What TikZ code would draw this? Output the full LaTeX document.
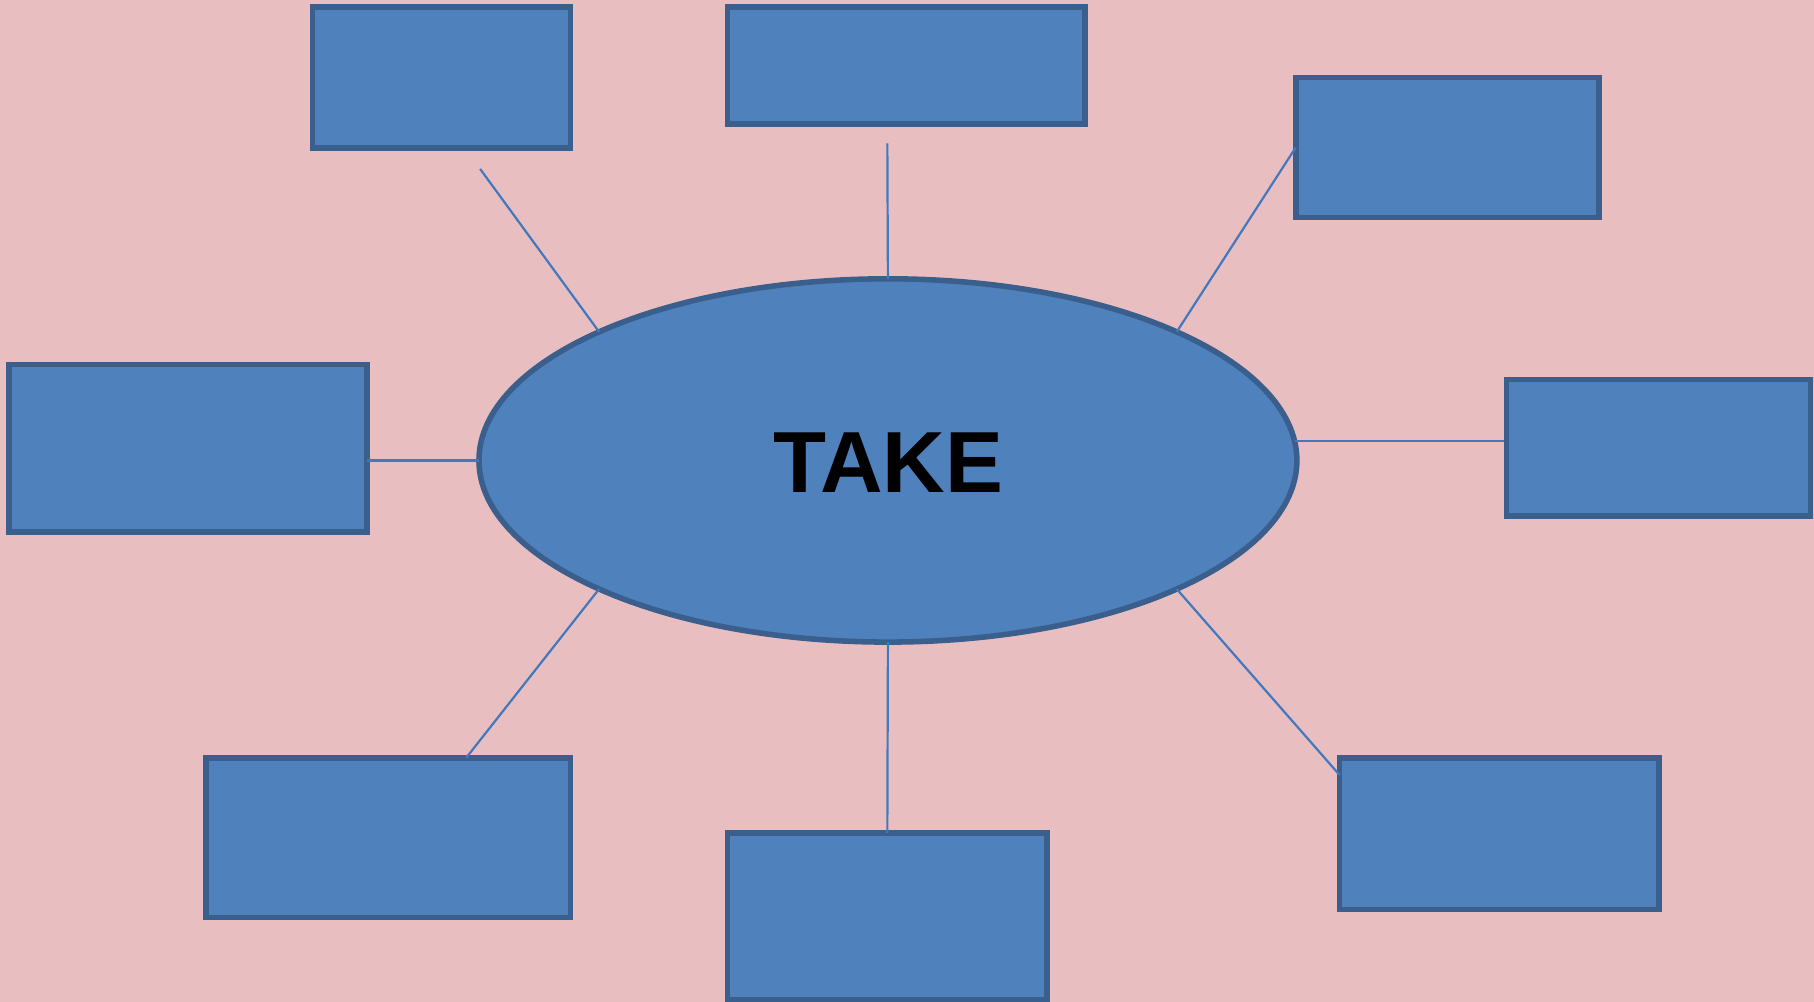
\documentclass[tikz,border=0pt]{standalone}
\usepackage{fontspec}
\setmainfont{Liberation Sans}
\usetikzlibrary{shapes.geometric}
\definecolor{bgpink}{HTML}{E9BEC1}
\definecolor{boxfill}{HTML}{4F81BD}
\definecolor{boxline}{HTML}{3A5F8C}
\definecolor{linkcol}{HTML}{4279BE}
\tikzset{
  box/.style={draw=boxline, fill=boxfill, line width=2.4pt, inner sep=0pt, outer sep=0pt, rectangle},
  hub/.style={draw=boxline, fill=boxfill, line width=2.4pt, inner sep=0pt, outer sep=0pt, ellipse,
              minimum width=353.5pt, minimum height=157pt},
  link/.style={draw=linkcol, line width=0.95pt},
  hubtext/.style={font=\fontsize{37.5}{40}\selectfont\bfseries, text=black, inner sep=0pt}
}
\begin{document}
\begin{tikzpicture}[x=0.5pt, y=-0.5pt]
\fill[bgpink] (0,0) rectangle (1568,866);
\useasboundingbox (0,0) rectangle (1568,866);

\node[hub] (ell) at (767.5,398) {};
\node[hubtext] (take) at (768,400) {TAKE};

\node[box, minimum width=111.5pt, minimum height=61pt]   (tl)  at (381.5,67) {};
\node[box, minimum width=154.5pt, minimum height=50.5pt] (top) at (783.5,56.5) {};
\node[box, minimum width=131pt,   minimum height=60.5pt] (tr)  at (1251,127.5) {};
\node[box, minimum width=154.5pt, minimum height=72.5pt] (l)   at (162.5,387.5) {};
\node[box, minimum width=131.5pt, minimum height=59pt]   (r)   at (1433.5,387) {};
\node[box, minimum width=157.5pt, minimum height=69pt]   (bl)  at (335.5,724) {};
\node[box, minimum width=138pt,   minimum height=72pt]   (b)   at (767,792) {};
\node[box, minimum width=138pt,   minimum height=65.5pt] (br)  at (1296,720.5) {};

\coordinate (tlend) at (415,146);
\coordinate (topend) at (767,124);

\draw[link] (ell.156.5) -- (tlend);
\draw[link] (ell.north) -- (topend);
\draw[link] (ell.24.1) -- (tr.west);
\draw[link] (ell.west) -- (ell.west -| l.east);
\draw[link] ([yshift=8.5pt,xshift=-1pt]ell.east) -- ([yshift=8.5pt,xshift=-1pt]ell.east -| r.west);
\draw[link] (ell.204.1) -- ([xshift=33.75pt]bl.north);
\draw[link] (ell.336.3) -- ([yshift=-7.5pt]br.north west);
\draw[link] (ell.south) -- (b.north);
\end{tikzpicture}
\end{document}
